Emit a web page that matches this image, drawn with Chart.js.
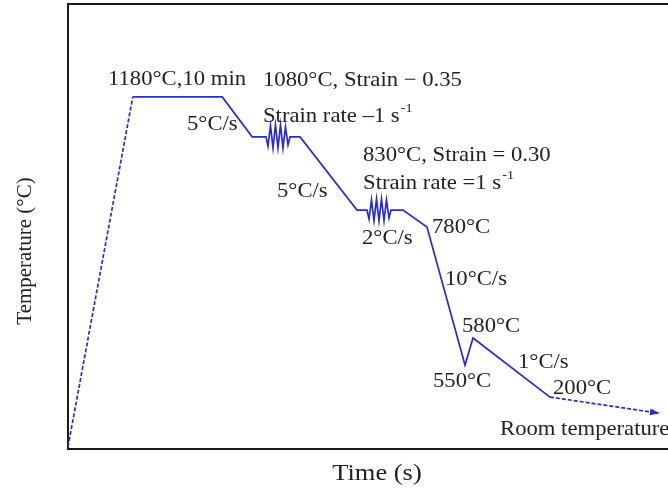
<!DOCTYPE html>
<html><head><meta charset="utf-8">
<script src="https://cdn.jsdelivr.net/npm/chart.js@4.4.0/dist/chart.umd.min.js"></script>
<style>html,body{margin:0;padding:0;background:#fff}#wrap{width:668px;height:492px}</style>
</head><body><div id="wrap"><canvas id="c" width="668" height="492"></canvas></div>
<script>
// Schematic thermal path (arbitrary time units 0-100, arbitrary temperature level 0-100)
const timeValues = [0, 10.8, 25.7, 30.7, 33.0,
  33.33, 33.75, 34.17, 34.58, 35.0, 35.42, 35.83, 36.25, 36.67, 37.0,
  38.67, 48.17, 49.83,
  50.17, 50.58, 51.0, 51.42, 51.83, 52.25, 52.67, 53.08, 53.5, 53.83,
  55.83, 59.83, 66.17, 67.5, 80.33, 98.33];
const tempLevels = [0.5, 79.3, 79.3, 70.3, 70.3,
  68.2, 72.8, 67.8, 73.0, 67.8, 73.0, 67.8, 72.5, 68.5, 70.3,
  70.3, 53.8, 53.8,
  51.8, 56.1, 51.4, 56.3, 51.4, 56.3, 51.4, 56.1, 52.0, 53.8,
  53.8, 50.0, 18.9, 25.0, 11.7, 8.1];

const annotationTexts = ['1180°C,10 min', '1080°C, Strain − 0.35', 'Strain rate –1 s^-1', '5°C/s', '5°C/s',
  '830°C, Strain = 0.30', 'Strain rate =1 s^-1', '2°C/s', '780°C', '10°C/s', '580°C', '550°C',
  '1°C/s', '200°C', 'Room temperature'];
const annotationX = [6.67, 32.5, 32.5, 19.83, 34.83, 49.17, 49.17, 49.0, 60.67, 62.83, 65.67, 60.83, 75.0, 80.83, 72.0];
const annotationY = [83.3, 82.9, 74.8, 73.0, 57.9, 66.2, 59.7, 47.5, 49.8, 38.1, 27.5, 15.1, 19.4, 13.7, 4.3];

const xTitle = 'Time (s)';
const yTitle = 'Temperature (°C)';

const LINE = '#2a2ad8';
const TEXT = '#222';
const FONT = '"Liberation Serif", "Times New Roman", serif';
const STRETCH = 1.08;

const points = timeValues.map((t, i) => ({x: t, y: tempLevels[i]}));
const lastIdx = points.length - 1;

function drawRich(ctx, str, x, y, size) {
  const parts = str.split('^');
  ctx.save();
  ctx.translate(x, y);
  ctx.scale(STRETCH, 1);
  ctx.font = size + 'px ' + FONT;
  ctx.fillText(parts[0], 0, 0);
  if (parts.length > 1) {
    const w = ctx.measureText(parts[0]).width;
    ctx.font = Math.round(size * 0.6) + 'px ' + FONT;
    ctx.fillText(parts[1], w + 1, -size * 0.38);
  }
  ctx.restore();
}

const decor = {
  id: 'decor',
  afterDatasetsDraw(chart) {
    const ctx = chart.ctx;
    const meta = chart.getDatasetMeta(0);
    const p = meta.data[lastIdx], q = meta.data[lastIdx - 1];
    const a = Math.atan2(p.y - q.y, p.x - q.x);
    ctx.save();
    ctx.fillStyle = LINE;
    ctx.translate(p.x, p.y);
    ctx.rotate(a);
    ctx.beginPath();
    ctx.moveTo(2, 0);
    ctx.lineTo(-8, -3.5);
    ctx.lineTo(-8, 3.5);
    ctx.closePath();
    ctx.fill();
    ctx.restore();
  },
  afterDraw(chart) {
    const ctx = chart.ctx;
    const {left, right, top} = chart.chartArea;
    const xs = chart.scales.x, ys = chart.scales.y;
    ctx.save();
    // top frame line
    ctx.strokeStyle = '#1a1a1a';
    ctx.lineWidth = 2;
    ctx.beginPath();
    ctx.moveTo(left - 1, top - 1);
    ctx.lineTo(right + 2, top - 1);
    ctx.stroke();
    ctx.fillStyle = TEXT;
    ctx.textAlign = 'left';
    ctx.textBaseline = 'middle';
    annotationTexts.forEach((s, i) => {
      drawRich(ctx, s, xs.getPixelForValue(annotationX[i]), ys.getPixelForValue(annotationY[i]), 21);
    });
    ctx.textAlign = 'center';
    ctx.save();
    ctx.translate(377, 474);
    ctx.scale(1.15, 1);
    ctx.font = '23px ' + FONT;
    ctx.fillText(xTitle, 0, 0);
    ctx.restore();
    ctx.translate(25, 251);
    ctx.rotate(-Math.PI / 2);
    ctx.font = '21px ' + FONT;
    ctx.fillText(yTitle, 0, 0);
    ctx.restore();
  }
};

new Chart(document.getElementById('c'), {
  type: 'scatter',
  data: {
    datasets: [{
      data: points,
      showLine: true,
      borderColor: LINE,
      borderWidth: 1.7,
      pointRadius: 0,
      fill: false,
      tension: 0,
      segment: {
        borderDash: c => (c.p0DataIndex === 0 || c.p1DataIndex === lastIdx) ? [4, 2] : undefined
      }
    }]
  },
  options: {
    responsive: false,
    animation: false,
    layout: {padding: {left: 68, top: 5, right: 0, bottom: 43}},
    plugins: {legend: {display: false}, tooltip: {enabled: false}},
    scales: {
      x: {
        type: 'linear', min: 0, max: 100,
        ticks: {display: false},
        grid: {display: false, drawTicks: false},
        border: {display: true, color: '#1a1a1a', width: 2},
        afterFit: s => { s.height = 0; }
      },
      y: {
        type: 'linear', min: 0, max: 100,
        ticks: {display: false},
        grid: {display: false, drawTicks: false},
        border: {display: true, color: '#1a1a1a', width: 2},
        afterFit: s => { s.width = 0; }
      }
    }
  },
  plugins: [decor]
});
</script>
</body></html>
